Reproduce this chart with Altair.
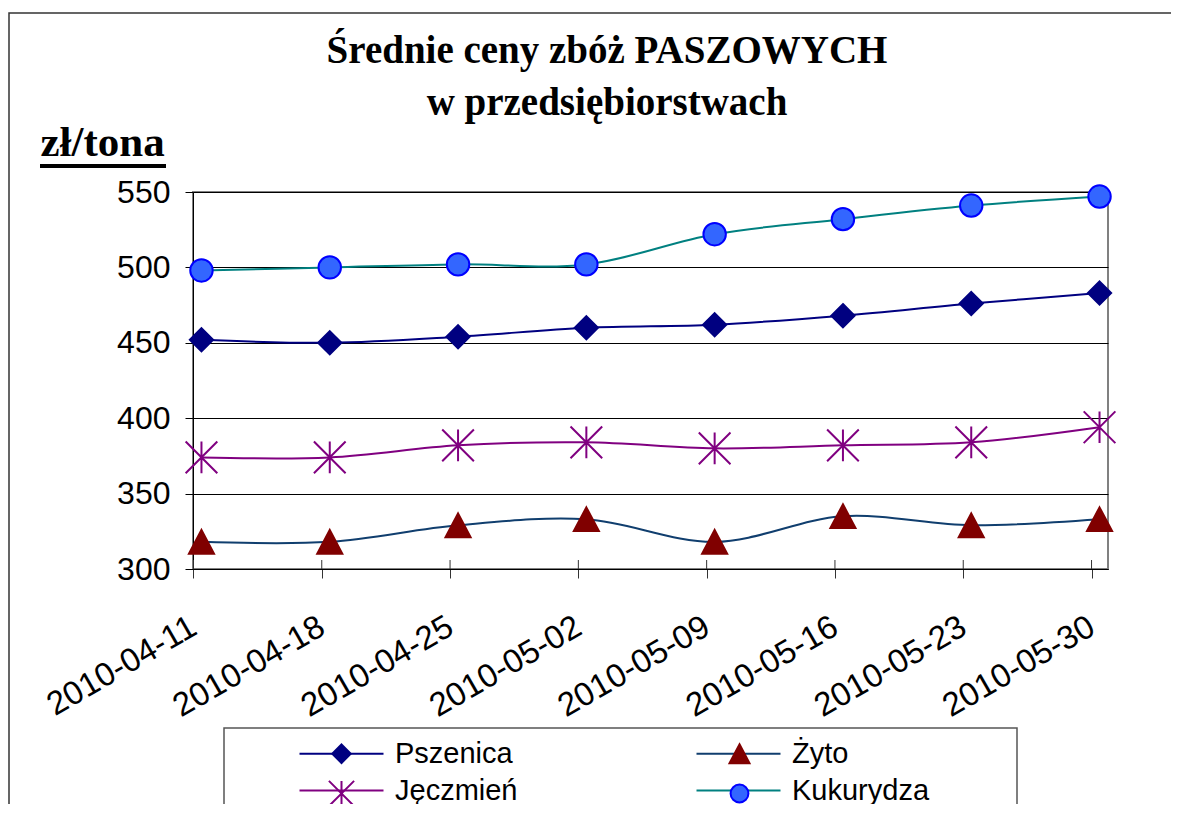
import altair as alt
import pandas as pd

# ---- data ----
dates = ["2010-04-11", "2010-04-18", "2010-04-25", "2010-05-02",
         "2010-05-09", "2010-05-16", "2010-05-23", "2010-05-30"]
series_names = ["Pszenica", "Żyto", "Jęczmień", "Kukurydza"]
pszenica = [452, 450, 454, 460, 462, 468, 476, 483]
zyto = [318, 318, 329, 333, 318, 335, 329, 333]
jeczmien = [374, 374, 382, 384, 380, 382, 384, 394]
kukurydza = [498, 500, 502, 502, 522, 532, 541, 547]
y_ticks = [300, 350, 400, 450, 500, 550]
title_lines = ["Średnie ceny zbóż PASZOWYCH", "w przedsiębiorstwach"]
y_title = "zł/tona"

# ---- styles ----
line_colors = ["#000080", "#103E6E", "#800080", "#008080"]
marker_fills = ["#000080", "#800000", "#800080", "#3366FF"]
marker_strokes = ["#000080", "#800000", "#800080", "#0000FF"]
marker_paths = [
    "M0,-0.88L0.88,0L0,0.88L-0.88,0Z",
    "M0,-0.9L0.95,0.9L-0.95,0.9Z",
    "M0,-1.2V1.2M-1.2,-1.2L1.2,1.2M-1.2,1.2L1.2,-1.2",
    "M0.85,0A0.85,0.85,0,1,1,-0.85,0A0.85,0.85,0,1,1,0.85,0Z",
]

rows = []
for name, vals in zip(series_names, [pszenica, zyto, jeczmien, kukurydza]):
    for d, v in zip(dates, vals):
        rows.append({"Data": d, "Seria": name, "Znacznik": name, "Cena": v})
df = pd.DataFrame(rows)
ticks_df = pd.DataFrame({"Data": dates})
one = pd.DataFrame({"k": [0]})

SANS = "Liberation Sans"
SERIF = "Liberation Serif"

X = alt.X(
    "Data:N", sort=dates,
    scale=alt.Scale(type="point", padding=0.066),
    axis=alt.Axis(title=None, labelAngle=330, labelAlign="right", labelBaseline="middle",
                  labelPadding=46, labelFont=SANS, labelFontSize=33, labelColor="black",
                  labelOverlap=False, labelLimit=400, tickSize=9, tickOffset=-8,
                  tickColor="#333333", domainColor="black", grid=False),
)
Y = alt.Y(
    "Cena:Q",
    scale=alt.Scale(domain=[300, 550], nice=False, zero=False),
    axis=alt.Axis(values=y_ticks, title=y_title, titleAngle=0, titleAlign="left",
                  titleBaseline="alphabetic", titleX=-153, titleY=-37, titleFont=SERIF,
                  titleFontSize=43, titleFontWeight="bold", titleColor="black",
                  labelFont=SANS, labelFontSize=32, labelColor="black", labelPadding=15,
                  labelOverlap=False, tickSize=8, tickColor="black", domainColor="black",
                  grid=True, gridColor="black", gridWidth=1),
)

leg_common = dict(title=None, orient="none", legendX=107, legendY=547, columns=2,
                  direction="horizontal", symbolSize=441, symbolStrokeWidth=2,
                  symbolOffset=27, labelOffset=39, labelFont=SANS, labelFontSize=29,
                  labelColor="black", labelLimit=400, rowPadding=7, padding=0)

line_legend = alt.Legend(symbolType="M-4,0H4", columnPadding=174, **leg_common)
marker_legend = alt.Legend(labelExpr="''", columnPadding=303, **leg_common)

frame = alt.Chart(one).mark_rect(fillOpacity=0, stroke="#333333", strokeWidth=1.5).encode(
    x=alt.value(-184), x2=alt.value(1300), y=alt.value(-179), y2=alt.value(800))
legend_box = alt.Chart(one).mark_rect(fillOpacity=0, stroke="#555555", strokeWidth=1.5).encode(
    x=alt.value(31), x2=alt.value(824), y=alt.value(536), y2=alt.value(800))
underline = alt.Chart(one).mark_rule(color="black", strokeWidth=4).encode(
    x=alt.value(-153), x2=alt.value(-27), y=alt.value(-26))
title_text = alt.Chart(one).mark_text(
    text=title_lines, font=SERIF, fontSize=39, fontWeight="bold", color="black",
    align="center", baseline="alphabetic", lineHeight=52).encode(
    x=alt.value(414), y=alt.value(-129))
inner_ticks = alt.Chart(ticks_df).mark_rule(color="#333333", strokeWidth=1, xOffset=-8).encode(
    x=X, y=alt.value(368), y2=alt.value(377))

lines = alt.Chart(df).mark_line(interpolate="catmull-rom", strokeWidth=2).encode(
    x=X, y=Y,
    color=alt.Color("Seria:N", sort=series_names, scale=alt.Scale(range=line_colors),
                    legend=line_legend),
)
points = alt.Chart(df).mark_point(filled=True, size=697, strokeWidth=2, opacity=1).encode(
    x=X, y=Y,
    shape=alt.Shape("Znacznik:N", scale=alt.Scale(domain=series_names, range=marker_paths),
                    legend=marker_legend),
    fill=alt.Fill("Znacznik:N", scale=alt.Scale(domain=series_names, range=marker_fills),
                  legend=marker_legend),
    stroke=alt.Stroke("Znacznik:N", scale=alt.Scale(domain=series_names, range=marker_strokes),
                      legend=marker_legend),
)

chart = alt.layer(frame, legend_box, underline, title_text, inner_ticks, lines, points).properties(
    width=915, height=377,
    padding={"left": 185, "top": 184, "right": 63, "bottom": 235},
    autosize=alt.AutoSizeParams(type="none"),
).configure_view(stroke="#808080", strokeWidth=2)

chart.save("out.html", embed_options={"renderer": "svg", "actions": False})
